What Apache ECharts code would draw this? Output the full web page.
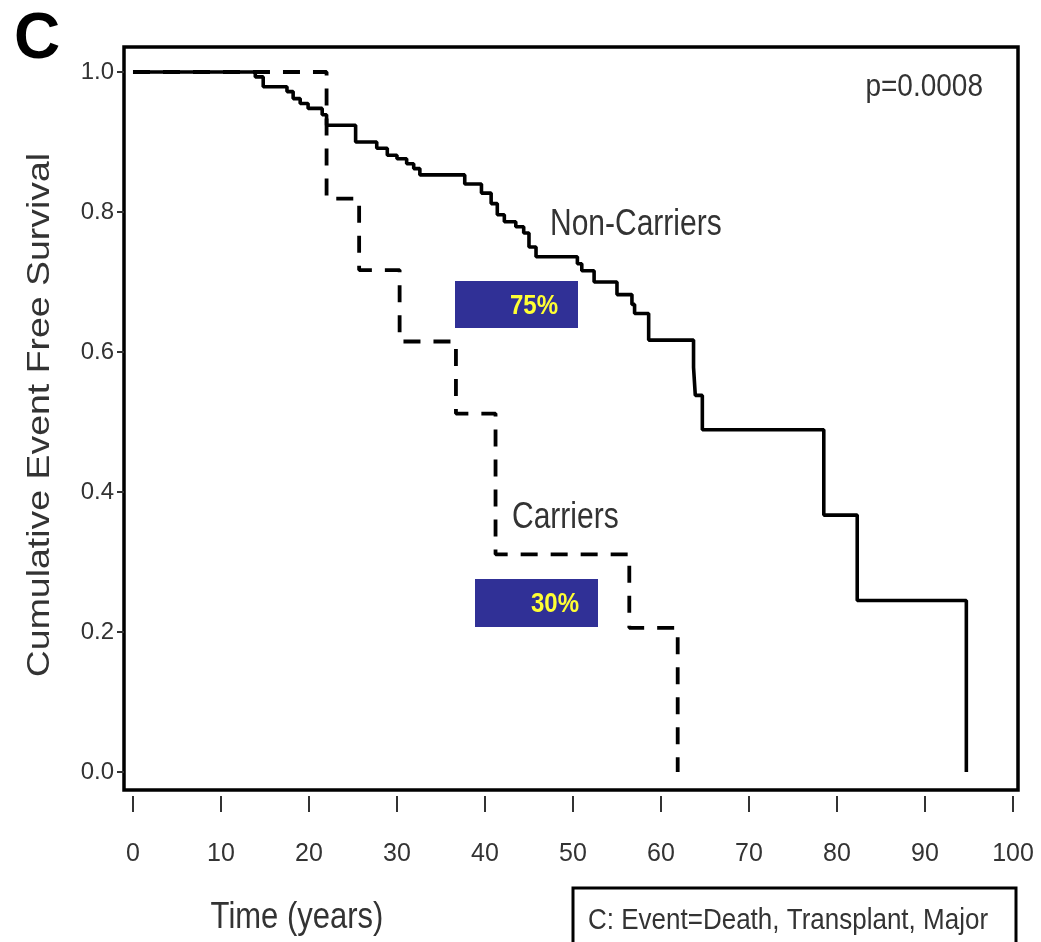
<!DOCTYPE html>
<html><head><meta charset="utf-8">
<script src="https://cdn.jsdelivr.net/npm/echarts@6/dist/echarts.min.js"></script>
<style>html,body{margin:0;padding:0;background:#fff}#c{width:1041px;height:942px}</style>
</head><body><div id="c"></div>
<script>
// ---- data ----
const xTicks = [0, 10, 20, 30, 40, 50, 60, 70, 80, 90, 100];
const yTicks = [0, 0.2, 0.4, 0.6, 0.8, 1.0];
const nonCarrierTimes = [0, 13.9, 14.8, 17.5, 18.2, 19.0, 19.9, 21.5, 22.0, 25.3, 27.7, 28.9, 30.0, 31.1, 31.9, 32.6, 37.7, 39.6, 40.7, 41.4, 42.2, 43.5, 44.4, 45.0, 45.8, 50.5, 51.0, 52.4, 55.0, 56.7, 57.0, 58.6, 63.7, 63.9, 64.7, 78.5, 82.3, 94.7];
const nonCarrierSurv  = [1.0, 0.993, 0.979, 0.972, 0.962, 0.955, 0.948, 0.939, 0.924, 0.900, 0.891, 0.881, 0.876, 0.869, 0.862, 0.853, 0.840, 0.827, 0.812, 0.796, 0.786, 0.779, 0.770, 0.750, 0.736, 0.726, 0.716, 0.700, 0.682, 0.668, 0.655, 0.617, 0.578, 0.538, 0.489, 0.367, 0.245, 0.0];
const carrierTimes = [0, 22.0, 25.7, 30.3, 36.7, 41.2, 56.4, 61.9];
const carrierSurv  = [1.0, 0.819, 0.717, 0.615, 0.512, 0.311, 0.206, 0.0];
const seriesNames = ['Non-Carriers', 'Carriers'];
const pText = 'p=0.0008';
const boxLabels = ['75%', '30%'];

const sans = "'Liberation Sans',Arial,sans-serif";

const chart = echarts.init(document.getElementById('c'), null, {renderer: 'canvas'});
const zip = (a, b) => a.map((t, i) => [t, b[i]]);

function txt(text, x, y, size, opts) {
  opts = opts || {};
  return {
    type: 'text', x: x, y: y, z: 100,
    rotation: opts.rotation || 0,
    scaleX: opts.scaleX || 1, scaleY: opts.scaleY || 1,
    style: {
      text: text, fill: opts.fill || '#222', fontSize: size,
      fontFamily: opts.family || sans, fontWeight: opts.weight || 'normal',
      textAlign: opts.align || 'left', textVerticalAlign: 'middle'
    }
  };
}

chart.setOption({
  animation: false,
  backgroundColor: '#fff',
  grid: {left: 124, top: 47, width: 894, height: 743, show: true,
         borderColor: '#000', borderWidth: 3.5, backgroundColor: 'transparent'},
  xAxis: {
    type: 'value', min: -1.02, max: 100.57, position: 'bottom', offset: 6,
    axisLine: {show: false, onZero: false}, splitLine: {show: false},
    axisTick: {show: true, inside: false, length: 16, customValues: xTicks, lineStyle: {color: '#333', width: 2}},
    axisLabel: {customValues: xTicks, inside: false, margin: 46, fontSize: 25, fontFamily: sans, color: '#333'}
  },
  yAxis: {
    type: 'value', min: -0.0257, max: 1.0357, position: 'left',
    axisLine: {show: false, onZero: false}, splitLine: {show: false},
    axisTick: {show: true, inside: false, length: 7, customValues: yTicks, lineStyle: {color: '#333', width: 2}},
    axisLabel: {customValues: yTicks, inside: false, margin: 10, fontSize: 24, fontFamily: sans, color: '#333',
                formatter: v => v.toFixed(1)}
  },
  series: [
    {name: seriesNames[1], type: 'line', step: 'end', showSymbol: false, z: 2,
     data: zip(carrierTimes, carrierSurv),
     lineStyle: {color: '#000', width: 3.8, type: [17, 13], cap: 'butt'}},
    {name: seriesNames[0], type: 'line', step: 'end', showSymbol: false, z: 3,
     data: zip(nonCarrierTimes, nonCarrierSurv),
     lineStyle: {color: '#000', width: 3.6, type: 'solid'}}
  ],
  graphic: [
    txt('C', 37, 40, 64, {weight: 'bold', align: 'center', fill: '#000'}),
    txt(pText, 983, 87, 28, {align: 'right', scaleY: 1.15, fill: '#333'}),
    txt(seriesNames[0], 550, 225, 30, {scaleY: 1.2, fill: '#333'}),
    txt(seriesNames[1], 512, 518, 30, {scaleY: 1.2, fill: '#333'}),
    txt('Time (years)', 297, 918, 31, {align: 'center', scaleY: 1.2, fill: '#333'}),
    txt('Cumulative Event Free Survival', 40, 415, 32, {align: 'center', rotation: Math.PI / 2, scaleX: 1.17, fill: '#333'}),
    {type: 'rect', z: 90, shape: {x: 455, y: 281, width: 123, height: 47}, style: {fill: '#303096'}},
    txt(boxLabels[0], 534, 306, 24, {align: 'center', weight: 'bold', fill: '#FFFF33', scaleY: 1.15}),
    {type: 'rect', z: 90, shape: {x: 475, y: 579, width: 123, height: 48}, style: {fill: '#303096'}},
    txt(boxLabels[1], 555, 604, 24, {align: 'center', weight: 'bold', fill: '#FFFF33', scaleY: 1.15}),
    {type: 'rect', z: 90, shape: {x: 573, y: 888, width: 443, height: 90}, style: {fill: 'none', stroke: '#000', lineWidth: 3}},
    txt('C: Event=Death, Transplant, Major', 588, 921, 26, {scaleY: 1.15, fill: '#333'})
  ]
});
</script></body></html>
